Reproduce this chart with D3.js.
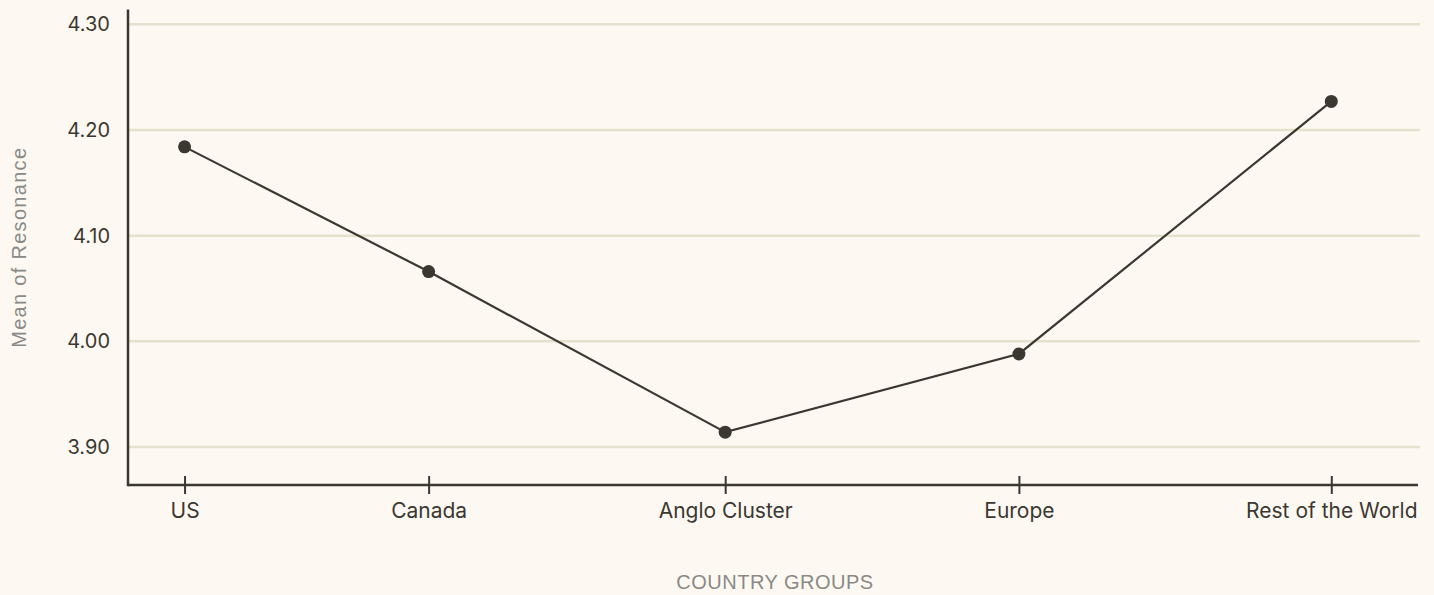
<!DOCTYPE html>
<html>
<head>
<meta charset="utf-8">
<script src="https://cdn.jsdelivr.net/npm/d3@7"></script>
<style>
  html, body { margin: 0; padding: 0; background: #fdf9f2; }
  svg { display: block; }
</style>
</head>
<body>
<svg id="chart" width="1434" height="595"></svg>
<script>
// Mean resonance score by country group
const categories = ["US", "Canada", "Anglo Cluster", "Europe", "Rest of the World"];
const meanResonance = [4.184, 4.066, 3.914, 3.988, 4.227];
const yTicks = [3.90, 4.00, 4.10, 4.20, 4.30];
const yDomain = [3.864, 4.314];

const W = 1434, H = 595;
const margin = { top: 9.5, right: 16, bottom: 110, left: 128 };
const x0 = margin.left, x1 = W - margin.right;
const yBottom = H - margin.bottom;

const ink = "#3b3731";
const grid = "#e6e1cf";
const muted = "#8a8986";
const tickFont = "Inter, 'Liberation Sans', Arial, sans-serif";
const titleFont = "'Liberation Sans', Arial, sans-serif";
const labelSize = 21;

const svg = d3.select("#chart");

const y = d3.scaleLinear().domain(yDomain).range([yBottom, margin.top]);

// Horizontal gridlines
svg.append("g")
  .selectAll("line")
  .data(yTicks)
  .join("line")
  .attr("x1", x0 + 1).attr("x2", x1 + 2)
  .attr("y1", d => y(d)).attr("y2", d => y(d))
  .attr("stroke", grid).attr("stroke-width", 2.5);

// Category labels are spread along the axis with equal gaps between them;
// measure them first so the tick positions follow the text widths.
const measure = svg.append("g").attr("font-family", tickFont).attr("font-size", labelSize);
const widths = categories.map(c => {
  const t = measure.append("text").text(c);
  const w = t.node().getComputedTextLength();
  t.remove();
  return w;
});
measure.remove();
const labelLeft = x0 + 42, labelRight = x1 - 1;
const gap = (labelRight - labelLeft - d3.sum(widths)) / (categories.length - 1);
let cursor = labelLeft;
const centers = widths.map(w => { const c = cursor + w / 2; cursor += w + gap; return c; });
const x = d3.scaleOrdinal().domain(categories).range(centers);

// X axis
const xAxis = svg.append("g")
  .attr("transform", `translate(0,${yBottom})`)
  .call(d3.axisBottom(x).tickSize(9).tickSizeOuter(0).tickPadding(14));
xAxis.select(".domain").remove();
xAxis.append("line")
  .attr("x1", x0).attr("x2", x1)
  .attr("stroke", ink).attr("stroke-width", 2.5);
xAxis.selectAll(".tick line")
  .attr("y1", -9).attr("y2", 9)
  .attr("stroke", ink).attr("stroke-width", 2);
xAxis.selectAll(".tick text")
  .attr("font-family", tickFont).attr("font-size", labelSize)
  .attr("fill", ink).attr("dy", "0.71em").attr("y", 18);

// Y axis
const yAxis = svg.append("g")
  .attr("transform", `translate(${x0},0)`)
  .call(d3.axisLeft(y).tickValues(yTicks).tickFormat(d3.format(".2f")).tickSize(0).tickPadding(18));
yAxis.select(".domain").remove();
yAxis.append("line")
  .attr("y1", margin.top).attr("y2", yBottom + 1.2)
  .attr("stroke", ink).attr("stroke-width", 2.5);
yAxis.selectAll(".tick text")
  .attr("font-family", tickFont).attr("font-size", 20).attr("fill", ink);

// Axis titles
svg.append("text")
  .attr("x", (x0 + x1) / 2 + 2).attr("y", 589)
  .attr("text-anchor", "middle")
  .attr("font-family", titleFont).attr("font-size", 20)
  .attr("letter-spacing", 0.5)
  .attr("fill", muted)
  .text("COUNTRY GROUPS");

svg.append("text")
  .attr("transform", `translate(26,${(margin.top + yBottom) / 2}) rotate(-90)`)
  .attr("text-anchor", "middle")
  .attr("font-family", titleFont).attr("font-size", 20)
  .attr("letter-spacing", 1.3)
  .attr("fill", muted)
  .text("Mean of Resonance");

// Line and points
const pts = categories.map((c, i) => ({ c, v: meanResonance[i] }));
svg.append("path")
  .datum(pts)
  .attr("fill", "none")
  .attr("stroke", ink).attr("stroke-width", 2.2)
  .attr("d", d3.line().x(d => x(d.c)).y(d => y(d.v)));

svg.append("g")
  .selectAll("circle")
  .data(pts)
  .join("circle")
  .attr("cx", d => x(d.c)).attr("cy", d => y(d.v))
  .attr("r", 6.5)
  .attr("fill", ink);
</script>
</body>
</html>
